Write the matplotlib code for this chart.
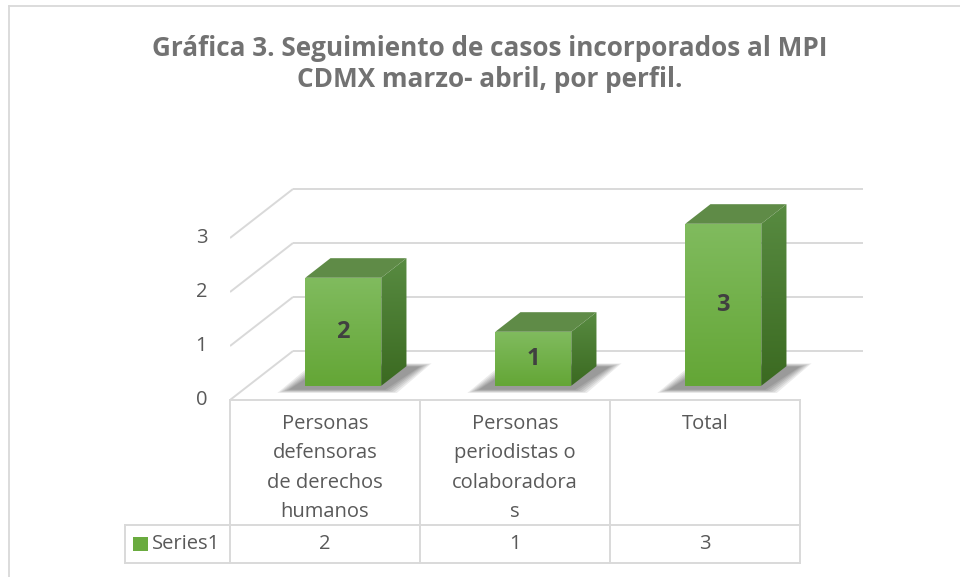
import numpy as np
import matplotlib.pyplot as plt
from matplotlib.colors import to_rgb
from matplotlib.patches import Polygon, Rectangle
from matplotlib.lines import Line2D

categories = [
    ["Personas", "defensoras", "de derechos", "humanos"],
    ["Personas", "periodistas o", "colaboradora", "s"],
    ["Total"],
]
values = [2, 1, 3]
yticks = [0, 1, 2, 3]
series_name = "Series1"
title = "Gráfica 3. Seguimiento de casos incorporados al MPI\nCDMX marzo- abril, por perfil."

W, H = 960, 577
plt.rcParams["font.family"] = ["Open Sans", "DejaVu Sans"]

fig = plt.figure(figsize=(W / 100, H / 100), dpi=100)
fig.patch.set_facecolor("white")

def fx(px):
    return px / W

def fy(py):
    return 1 - py / H

grid_c = "#d9d9d9"
text_c = "#595959"

# chart border (cropped on right and bottom)
fig.add_artist(Line2D([fx(8.5), fx(8.5)], [fy(5.5), fy(H + 5)], color=grid_c, lw=1.3))
fig.add_artist(Line2D([fx(8.5), fx(W + 5)], [fy(5.5), fy(5.5)], color=grid_c, lw=1.3))

fig.text(fx(490), fy(64), title, ha="center", va="center", fontsize=18.8,
         fontweight="bold", color="#727272", linespacing=1.22)

# plot area: 190 px per category, 54 px per unit
x_left, x_right, y_bot, y_top = 230, 870, 400, 180
ax = fig.add_axes([fx(x_left), fy(y_bot), (x_right - x_left) / W, (y_bot - y_top) / H])
ax.set_xlim(0, (x_right - x_left) / 190)
ax.set_ylim(0, (y_bot - y_top) / 54)
ax.axis("off")

n = len(values)
OX, OY = 63 / 190, 49 / 54   # full depth offset
d0, dd = 0.29, 0.4           # bar depth start and depth

for v in yticks:
    ax.plot([0, OX], [v, v + OY], color=grid_c, lw=1.4, zorder=1, solid_capstyle="butt")
    ax.plot([OX, n + OX], [v + OY, v + OY], color=grid_c, lw=1.4, zorder=1, solid_capstyle="butt")
    ax.text(-0.12, v, str(v), ha="right", va="center", fontsize=14.5, color=text_c)

def grad_fill(poly, c_top, c_bot, z):
    poly.set_facecolor("none")
    poly.set_edgecolor("none")
    ax.add_patch(poly)
    g = np.linspace(0, 1, 64)[:, None, None]
    img = np.array(to_rgb(c_top)) * (1 - g) + np.array(to_rgb(c_bot)) * g
    xy = poly.get_xy()
    im = ax.imshow(img, extent=[xy[:, 0].min(), xy[:, 0].max(), xy[:, 1].min(), xy[:, 1].max()],
                   aspect="auto", origin="upper", zorder=z, interpolation="bilinear")
    im.set_clip_path(poly)

for i, v in enumerate(values):
    x0 = i + 0.3 + d0 * OX
    x1 = x0 + 0.4
    b = d0 * OY
    t = v + b
    dx, dy = dd * OX, dd * OY

    # soft shadow on the floor
    for k in range(6):
        e = 0.012 * (6 - k)
        sh = Polygon([(x0 - 0.075 - e, b - 0.06 - e), (x1 + 0.01 + e, b - 0.06 - e),
                      (x1 + dx + 0.06 + e, b + dy - 0.02 + e), (x0 + dx - 0.02 - e, b + dy - 0.02 + e)],
                     closed=True, facecolor="black", edgecolor="none", alpha=0.08, zorder=2)
        ax.add_patch(sh)

    front = Polygon([(x0, b), (x1, b), (x1, t), (x0, t)], closed=True)
    grad_fill(front, "#80bb5e", "#64a636", 4)
    side = Polygon([(x1, b), (x1 + dx, b + dy), (x1 + dx, t + dy), (x1, t)], closed=True)
    grad_fill(side, "#588b41", "#3b6a21", 3)
    top = Polygon([(x0, t), (x1, t), (x1 + dx, t + dy), (x0 + dx, t + dy)], closed=True,
                  facecolor="#5f8b47", edgecolor="none", zorder=3)
    ax.add_patch(top)

    ax.text((x0 + x1) / 2, (b + t) / 2, str(v), ha="center", va="center",
            fontsize=17, fontweight="bold", color="#404040", zorder=5)

# data table
col_x = [230, 420, 610, 800]
legend_x = 125
row_top, row_mid, row_bot = 400, 525, 563
lw = 1.4

def hline(x0, x1, y):
    fig.add_artist(Line2D([fx(x0), fx(x1)], [fy(y), fy(y)], color=grid_c, lw=lw))

def vline(x, y0, y1):
    fig.add_artist(Line2D([fx(x), fx(x)], [fy(y0), fy(y1)], color=grid_c, lw=lw))

hline(col_x[0], col_x[-1], row_top)
hline(legend_x, col_x[-1], row_mid)
hline(legend_x, col_x[-1], row_bot)
for cx in col_x:
    vline(cx, row_top, row_bot)
vline(legend_x, row_mid, row_bot)

for i, lines in enumerate(categories):
    cx = (col_x[i] + col_x[i + 1]) / 2
    for k, line in enumerate(lines):
        fig.text(fx(cx), fy(424 + 29.3 * k), line, ha="center", va="center",
                 fontsize=14.5, color=text_c)
    fig.text(fx(cx), fy(544), str(values[i]), ha="center", va="center",
             fontsize=14.5, color=text_c)

fig.add_artist(Rectangle((fx(133), fy(551)), 15 / W, 14 / H, facecolor="#6aab3f",
                         edgecolor="none"))
fig.text(fx(152), fy(544), series_name, ha="left", va="center", fontsize=14.5, color=text_c)

fig.savefig("out.png", dpi=100, facecolor="white")
